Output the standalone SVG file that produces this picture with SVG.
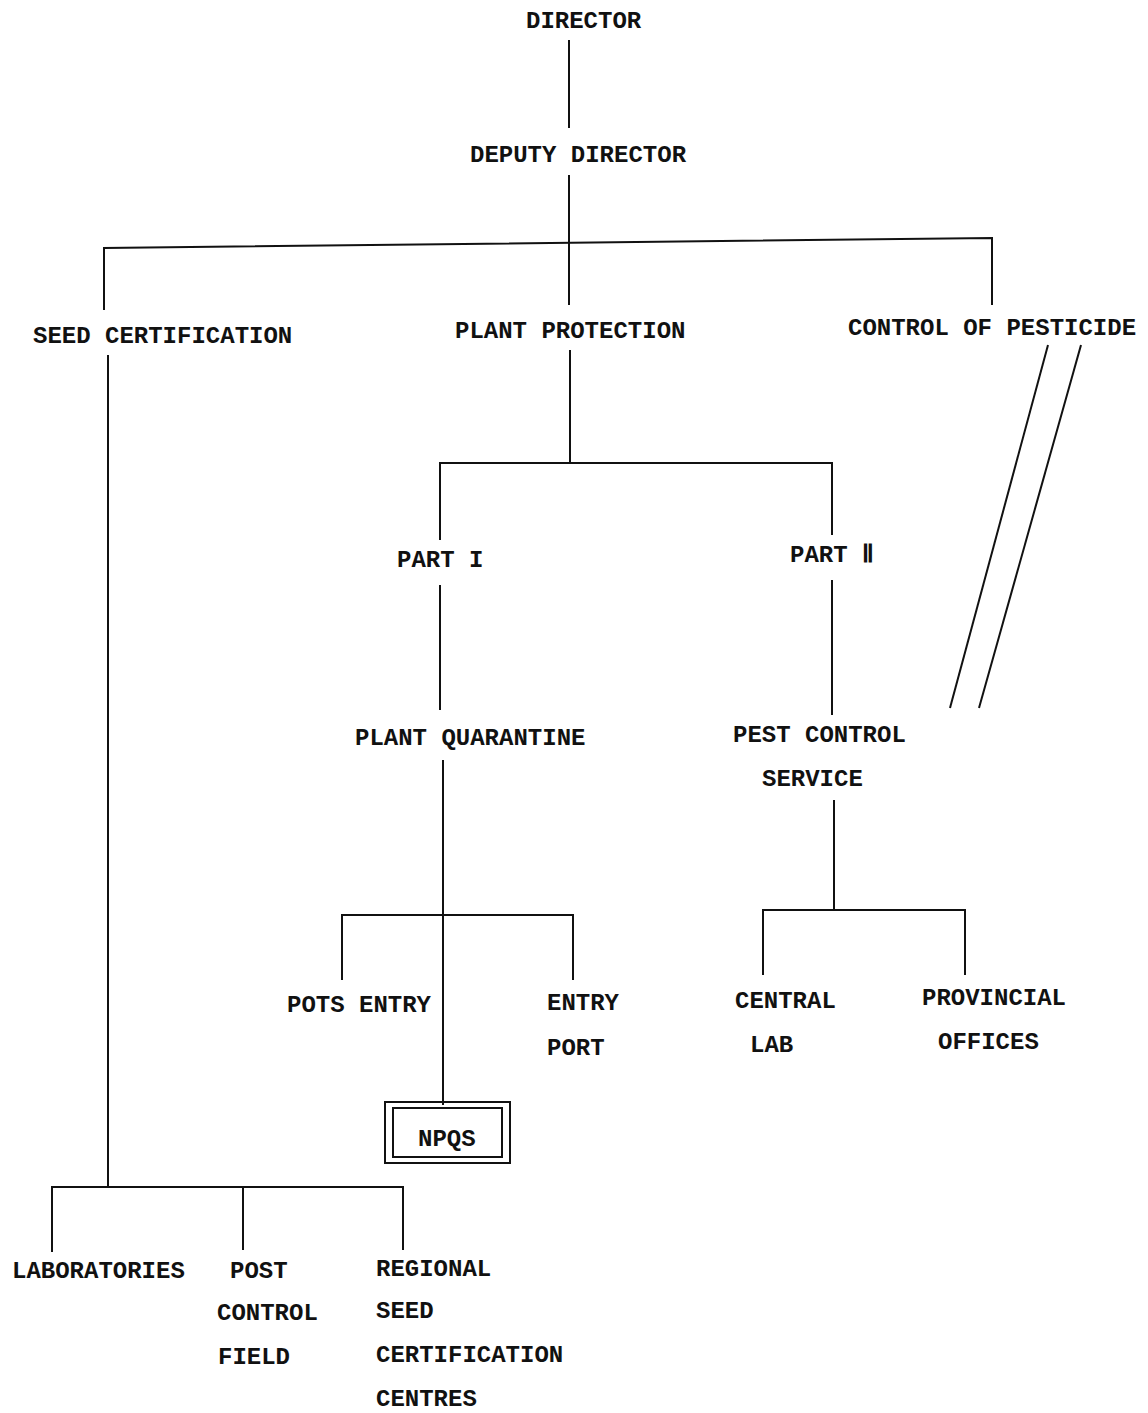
<svg xmlns="http://www.w3.org/2000/svg" width="1148" height="1413" viewBox="0 0 1148 1413">
<style>
text{font-family:"Liberation Mono","DejaVu Sans Mono",monospace;font-size:24px;font-weight:bold;fill:#111}
.c line,.c polyline{stroke:#111;stroke-width:2;fill:none}
.box{fill:none;stroke:#111;stroke-width:2}
</style>
<rect width="1148" height="1413" fill="#fff"/>
<g class="c" id="connectors">
<line x1="569" y1="40" x2="569" y2="128"/>
<line x1="569" y1="175" x2="569" y2="305"/>
<polyline points="104,310 104,248 992,238 992,305"/>
<line x1="108" y1="355" x2="108" y2="1187"/>
<polyline points="52,1252 52,1187 403,1187 403,1250"/>
<line x1="243" y1="1187" x2="243" y2="1250"/>
<line x1="570" y1="350" x2="570" y2="463"/>
<polyline points="440,540 440,463 832,463 832,535"/>
<line x1="440" y1="585" x2="440" y2="710"/>
<line x1="443" y1="760" x2="443" y2="1105"/>
<polyline points="342,980 342,915 573,915 573,980"/>
<line x1="832" y1="580" x2="832" y2="715"/>
<line x1="834" y1="800" x2="834" y2="910"/>
<polyline points="763,975 763,910 965,910 965,975"/>
<line x1="1048" y1="345" x2="950" y2="708"/>
<line x1="1081" y1="345" x2="979" y2="708"/>
</g>
<g id="n-director"><text x="526" y="28">DIRECTOR</text></g>
<g id="n-deputy"><text x="470" y="162">DEPUTY DIRECTOR</text></g>
<g id="n-seed"><text x="33" y="343">SEED CERTIFICATION</text></g>
<g id="n-plantprot"><text x="455" y="338">PLANT PROTECTION</text></g>
<g id="n-pesticide"><text x="848" y="335">CONTROL OF PESTICIDE</text></g>
<g id="n-part1"><text x="397" y="567">PART I</text></g>
<g id="n-part2"><text x="790" y="562">PART  Ⅱ</text></g>
<g id="n-quarantine"><text x="355" y="745">PLANT QUARANTINE</text></g>
<g id="n-pestcontrol"><text x="733" y="742">PEST CONTROL</text><text x="762" y="786">SERVICE</text></g>
<g id="n-potsentry"><text x="287" y="1012">POTS ENTRY</text></g>
<g id="n-entryport"><text x="547" y="1010">ENTRY</text><text x="547" y="1055">PORT</text></g>
<g id="n-central"><text x="735" y="1008">CENTRAL</text><text x="750" y="1052">LAB</text></g>
<g id="n-provincial"><text x="922" y="1005">PROVINCIAL</text><text x="938" y="1049">OFFICES</text></g>
<g id="n-npqs"><rect class="box" x="385" y="1102" width="125" height="61"/><rect class="box" x="393" y="1108" width="109" height="49"/><text x="418" y="1146">NPQS</text></g>
<g id="n-labs"><text x="12" y="1278">LABORATORIES</text></g>
<g id="n-post"><text x="230" y="1278">POST</text><text x="217" y="1320">CONTROL</text><text x="218" y="1364">FIELD</text></g>
<g id="n-regional"><text x="376" y="1276">REGIONAL</text><text x="376" y="1318">SEED</text><text x="376" y="1362">CERTIFICATION</text><text x="376" y="1406">CENTRES</text></g>
</svg>
